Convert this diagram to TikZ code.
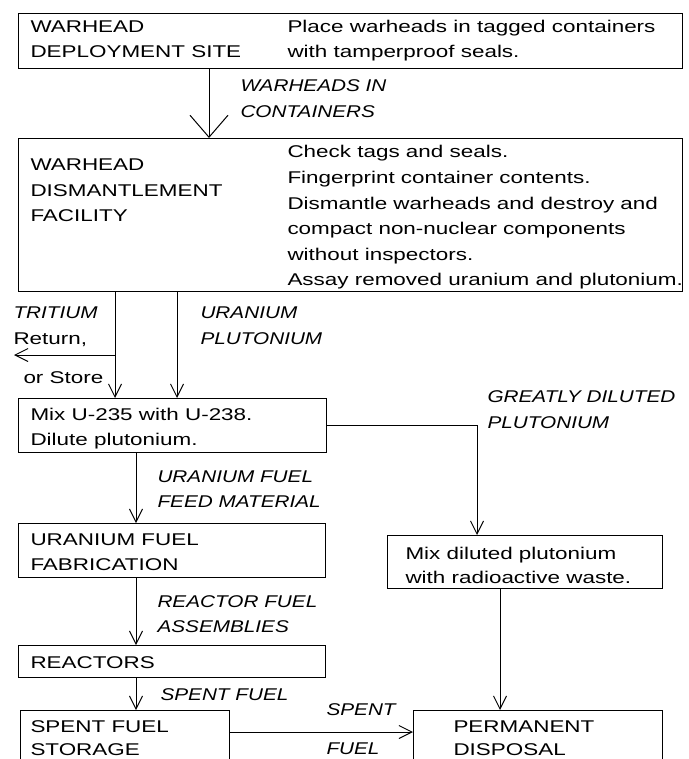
\documentclass[tikz,border=0pt]{standalone}
\usepackage{fontspec}
\setmainfont{Liberation Sans}[FakeStretch=1.32]
\newfontfamily\labfont{Liberation Sans}[FakeStretch=1.22]
\usetikzlibrary{arrows.meta}
\begin{document}
\begin{tikzpicture}[x=1pt,y=-1pt,line width=1pt,
  box/.style={draw,rectangle,inner sep=0pt,anchor=north west},
  txt/.style={anchor=base west,inner sep=0pt,font=\fontsize{17}{20}\selectfont},
  lab/.style={anchor=base west,inner sep=0pt,font=\fontsize{17}{20}\labfont\itshape},
  arr/.style={-{Straight Barb[length=13pt,width=13pt,line width=1pt]}},
  bigarr/.style={-{Straight Barb[length=22pt,width=38pt,line width=1pt]}}]
\useasboundingbox (0,0) rectangle (688,759);
\clip (0,0) rectangle (688,759);
% boxes
\node[box,minimum width=664pt,minimum height=55pt] (b1) at (18,13) {};
\node[box,minimum width=664pt,minimum height=153pt] (b2) at (18,138) {};
\node[box,minimum width=308pt,minimum height=54pt] (b3) at (18,398) {};
\node[box,minimum width=307pt,minimum height=54pt] (b4) at (18,523) {};
\node[box,minimum width=275pt,minimum height=53pt] (b5) at (387,535) {};
\node[box,minimum width=307pt,minimum height=32pt] (b6) at (18,645) {};
\node[box,minimum width=209pt,minimum height=80pt] (b7) at (20,710) {};
\node[box,minimum width=249pt,minimum height=80pt] (b8) at (413,710) {};
% texts
\node[txt] (t1a) at (30,33) {WARHEAD};
\node[txt] (t1b) at (30,58) {DEPLOYMENT SITE};
\node[txt] (t1c) at (287,33) {Place warheads in tagged containers};
\node[txt] (t1d) at (287,58) {with tamperproof seals.};
\node[lab] (l1a) at (240,92) {WARHEADS IN};
\node[lab] (l1b) at (240,118) {CONTAINERS};
\node[txt] (t2a) at (30,171) {WARHEAD};
\node[txt] (t2b) at (30,196.5) {DISMANTLEMENT};
\node[txt] (t2c) at (30,222) {FACILITY};
\node[txt] (t2d) at (287,158) {Check tags and seals.};
\node[txt] (t2e) at (287,183.5) {Fingerprint container contents.};
\node[txt] (t2f) at (287,209) {Dismantle warheads and destroy and};
\node[txt] (t2g) at (287,234.5) {compact non-nuclear components};
\node[txt] (t2h) at (287,260) {without inspectors.};
\node[txt] (t2i) at (287,285.5) {Assay removed uranium and plutonium.};
\node[lab] (l2a) at (13,318) {TRITIUM};
\node[txt] (l2b) at (13,344) {Return,};
\node[txt] (l2c) at (23,383) {or Store};
\node[lab] (l3a) at (200,318) {URANIUM};
\node[lab] (l3b) at (200,344) {PLUTONIUM};
\node[txt] (t3a) at (30,420) {Mix U-235 with U-238.};
\node[txt] (t3b) at (30,445) {Dilute plutonium.};
\node[lab] (l4a) at (487,402) {GREATLY DILUTED};
\node[lab] (l4b) at (487,428) {PLUTONIUM};
\node[lab] (l5a) at (157,482) {URANIUM FUEL};
\node[lab] (l5b) at (157,507) {FEED MATERIAL};
\node[txt] (t4a) at (30,545) {URANIUM FUEL};
\node[txt] (t4b) at (30,570) {FABRICATION};
\node[txt] (t5a) at (405,559) {Mix diluted plutonium};
\node[txt] (t5b) at (405,583) {with radioactive waste.};
\node[lab] (l6a) at (157,607) {REACTOR FUEL};
\node[lab] (l6b) at (157,632) {ASSEMBLIES};
\node[txt] (t6) at (30,668) {REACTORS};
\node[lab] (l7) at (160,700) {SPENT FUEL};
\node[txt] (t7a) at (30,732) {SPENT FUEL};
\node[txt,text depth=0pt] (t7b) at (30,755) {STORAGE};
\node[lab] (l8a) at (326,715) {SPENT};
\node[lab,text depth=0pt] (l8b) at (326,754) {FUEL};
\node[txt] (t8a) at (453,732) {PERMANENT};
\node[txt,text depth=0pt] (t8b) at (453,755) {DISPOSAL};
% connector guide coordinates
\coordinate (xA) at (209,0);
\coordinate (xT) at (115,0);
\coordinate (xU) at (177,0);
\coordinate (xM) at (136,0);
\coordinate (xG) at (477,0);
\coordinate (xP) at (500,0);
\coordinate (tl) at (14,355);
\coordinate (yS) at (0,732);
% connectors
\draw[bigarr] (xA |- b1.south) -- (xA |- b2.north);
\draw[arr] (xT |- b2.south) -- (xT |- b3.north);
\draw[arr] (xT |- tl) -- (tl);
\draw[arr] (xU |- b2.south) -- (xU |- b3.north);
\draw[arr] (b3.east) -| (xG |- b5.north);
\draw[arr] (xM |- b3.south) -- (xM |- b4.north);
\draw[arr] (xM |- b4.south) -- (xM |- b6.north);
\draw[arr] (xM |- b6.south) -- (xM |- b7.north);
\draw[arr] (xP |- b5.south) -- (xP |- b8.north);
\draw[arr] (b7.east |- yS) -- (b8.west |- yS);
\end{tikzpicture}
\end{document}
